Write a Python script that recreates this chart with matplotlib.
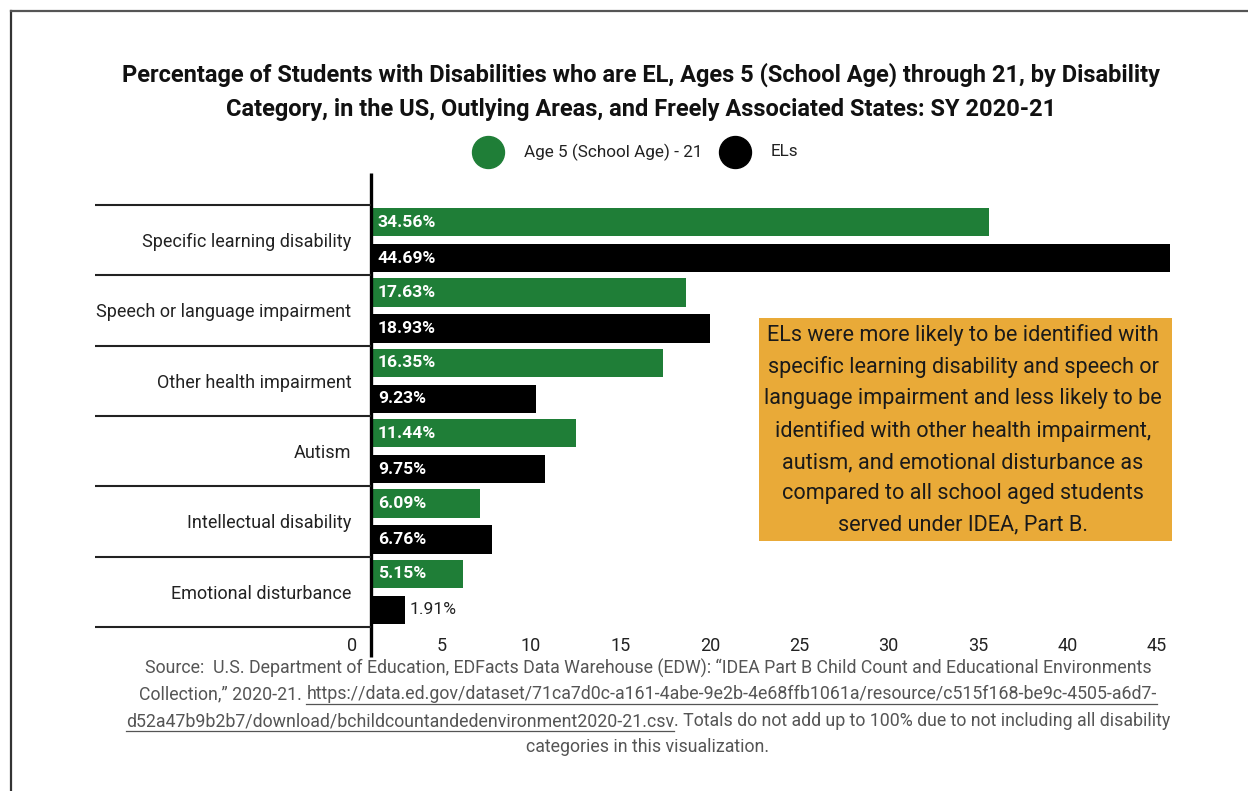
import matplotlib
matplotlib.use("Agg")
import matplotlib.pyplot as plt
import matplotlib.transforms as mtransforms
from matplotlib.lines import Line2D
import numpy as np

plt.rcParams['font.family'] = ['Roboto', 'DejaVu Sans']

# ---------------- data ----------------
categories = [
    "Specific learning disability",
    "Speech or language impairment",
    "Other health impairment",
    "Autism",
    "Intellectual disability",
    "Emotional disturbance",
]
age_5_21 = [34.56, 17.63, 16.35, 11.44, 6.09, 5.15]
els = [44.69, 18.93, 9.23, 9.75, 6.76, 1.91]
series_names = ["Age 5 (School Age) - 21", "ELs"]
x_ticks = [0, 5, 10, 15, 20, 25, 30, 35, 40, 45]

title = ("Percentage of Students with Disabilities who are EL, Ages 5 (School Age) through 21, by Disability\n"
         "Category, in the US, Outlying Areas, and Freely Associated States: SY 2020-21")
note = ("ELs were more likely to be identified with\n"
        "specific learning disability and speech or\n"
        "language impairment and less likely to be\n"
        "identified with other health impairment,\n"
        "autism, and emotional disturbance as\n"
        "compared to all school aged students\n"
        "served under IDEA, Part B.")
footer_lines = [
    [("Source:  U.S. Department of Education, EDFacts Data Warehouse (EDW): \u201cIDEA Part B Child Count and Educational Environments", False)],
    [("Collection,\u201d 2020-21.", False), (" ", False),
     ("https://data.ed.gov/dataset/71ca7d0c-a161-4abe-9e2b-4e68ffb1061a/resource/c515f168-be9c-4505-a6d7-", True)],
    [("d52a47b9b2b7/download/bchildcountandedenvironment2020-21.csv", True),
     (". Totals do not add up to 100% due to not including all disability", False)],
    [("categories in this visualization.", False)],
]

GREEN = "#1f7e37"
BLACK = "#000000"
ORANGE = "#e9aa38"

W, H = 1248, 791
fig = plt.figure(figsize=(W / 100, H / 100), dpi=100)
fig.patch.set_facecolor("white")

def fx(px):
    return px / W

def fy(py):
    return 1 - py / H

# frame (left and top lines only)
fig.add_artist(Line2D([fx(10.5), fx(10.5)], [fy(10.5), 0], color="#333333", lw=1.6, transform=fig.transFigure))
fig.add_artist(Line2D([fx(10.5), 1], [fy(10.5), fy(10.5)], color="#555555", lw=1.6, transform=fig.transFigure))

ax_left, ax_right, ax_top, ax_bot = 371, 1176, 205, 627
ax = fig.add_axes([fx(ax_left), fy(ax_bot), (ax_right - ax_left) / W, (ax_bot - ax_top) / H])
ax.set_xlim(0, 45)
ax.set_ylim(len(categories) - 0.5, -0.5)
for s in ax.spines.values():
    s.set_visible(False)

y = np.arange(len(categories))
off, bh = 0.255, 0.40
b1 = ax.barh(y - off, age_5_21, height=bh, color=GREEN)
b2 = ax.barh(y + off, els, height=bh, color=BLACK)

# value labels
for bars, vals in ((b1, age_5_21), (b2, els)):
    for rect, v in zip(bars, vals):
        yc = rect.get_y() + rect.get_height() / 2
        if v > 3:
            ax.annotate(f"{v:.2f}%", (0, yc), xytext=(5, 0), textcoords="offset points",
                        ha="left", va="center", color="white", fontsize=12.6, fontweight="bold")
        else:
            ax.annotate(f"{v:.2f}%", (v, yc), xytext=(3.5, 0), textcoords="offset points",
                        ha="left", va="center", color="#222222", fontsize=12.6)

# vertical axis line (extends beyond the plot area)
ph = ax_bot - ax_top
ax.plot([0, 0], [(ax_bot - 657) / ph, (ax_bot - 173) / ph], transform=ax.get_xaxis_transform(),
        color="black", lw=2.4, clip_on=False, solid_capstyle="butt")

# category separators extending left
sep_x0 = (95 - ax_left) / (ax_right - ax_left)
for b in np.arange(len(categories) + 1) - 0.5:
    ax.plot([sep_x0, 0], [b, b], transform=ax.get_yaxis_transform(), color="#222222",
            lw=1.5, clip_on=False, solid_capstyle="butt")

# y tick labels
ax.set_yticks(y)
ax.set_yticklabels(categories, fontsize=13, color="#222222")
ax.tick_params(axis="y", length=0, pad=14)

# x ticks
ax.set_xticks(x_ticks)
ax.set_xticklabels([str(t) for t in x_ticks], fontsize=13, color="#222222")
ax.tick_params(axis="x", length=0, pad=7)
shift = mtransforms.ScaledTranslation(-19 / 100, 0, fig.dpi_scale_trans)
for lbl in ax.get_xticklabels():
    lbl.set_transform(lbl.get_transform() + shift)

# title
fig.text(fx(641), fy(92), title, ha="center", va="center", fontsize=17, fontweight="bold",
         color="#111111", linespacing=1.62)

# legend (custom, circles)
leg_y = fy(152)
fig.add_artist(Line2D([fx(488)], [leg_y], marker="o", markersize=23, color=GREEN, lw=0,
                      transform=fig.transFigure))
fig.text(fx(524), leg_y, series_names[0], ha="left", va="center", fontsize=12.3, color="#222222")
fig.add_artist(Line2D([fx(735)], [leg_y], marker="o", markersize=23, color=BLACK, lw=0,
                      transform=fig.transFigure))
fig.text(fx(771), leg_y, series_names[1], ha="left", va="center", fontsize=12.3, color="#222222")

# annotation box
box = matplotlib.patches.Rectangle((fx(759), fy(541)), fx(1172) - fx(759), fy(318) - fy(541),
                                   transform=fig.transFigure, facecolor=ORANGE, edgecolor="none")
fig.add_artist(box)
fig.text(fx(963), fy(429.5), note, ha="center", va="center", fontsize=15.6, color="#1a1a1a",
         linespacing=1.63)

# footer with underlined URL parts
renderer = fig.canvas.get_renderer()
footer_y = [668, 694, 721, 747]
center_x = 648
for parts, py in zip(footer_lines, footer_y):
    texts = []
    for s, ul in parts:
        t = fig.text(0, fy(py), s, ha="left", va="center", fontsize=12.8, color="#555555")
        texts.append((t, ul))
    widths = [t.get_window_extent(renderer).width for t, _ in texts]
    total = sum(widths)
    x = center_x - total / 2
    for (t, ul), w in zip(texts, widths):
        t.set_x(fx(x))
        if ul:
            fig.add_artist(Line2D([fx(x), fx(x + w)], [fy(py + 10), fy(py + 10)], color="#555555",
                                  lw=0.9, transform=fig.transFigure))
        x += w

fig.savefig("out.png", dpi=100)
